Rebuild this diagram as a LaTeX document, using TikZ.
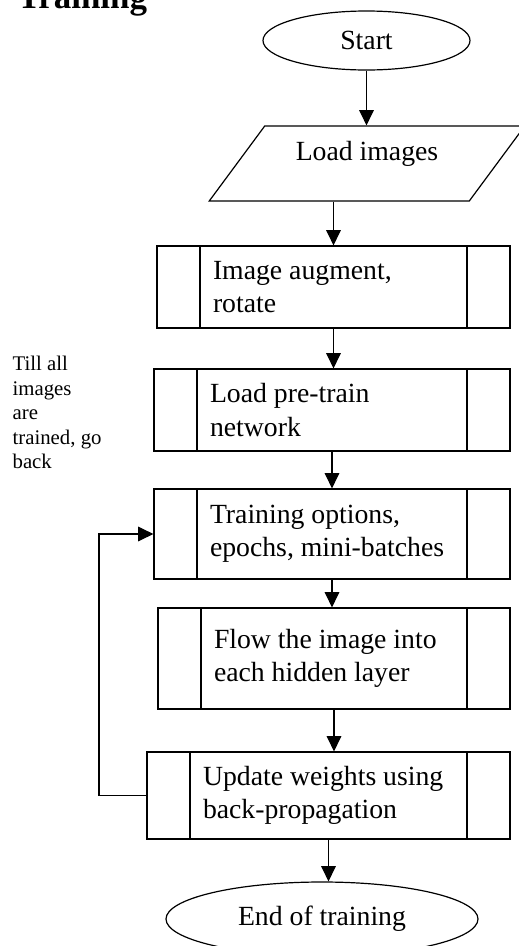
\documentclass[tikz,border=0pt]{standalone}
\usepackage{fontspec}
\setmainfont{Liberation Serif}
\usetikzlibrary{shapes.geometric,arrows.meta}

\tikzset{every picture/.style={line width=0.9pt}}
\tikzset{
  startstop/.style={draw, ellipse, inner sep=0pt},
  iobox/.style={draw, trapezium, trapezium left angle=49.5, trapezium right angle=130.5, trapezium stretches=true, inner sep=0pt},
  procbox/.style={draw, rectangle, align=flush left, inner xsep=42pt, inner ysep=0pt,
    path picture={
      \draw ([xshift=32.25pt]path picture bounding box.north west) -- ([xshift=32.25pt]path picture bounding box.south west);
      \draw ([xshift=-32.25pt]path picture bounding box.north east) -- ([xshift=-32.25pt]path picture bounding box.south east);
    }},
  flowarrow/.style={-{Triangle[length=11.5pt,width=11pt]}},
}

\begin{document}
\begin{tikzpicture}[x=0.75pt,y=0.75pt,yscale=-1,xscale=1,font=\fontsize{20.8}{25}\selectfont]
    \useasboundingbox (0,0) rectangle (518,946);
    \draw (17,8.5) node [anchor=base west, inner sep=0pt, font=\fontsize{26.2}{30}\selectfont\bfseries] (title) {Training};
    \draw (366.5,40.5) node [startstop, minimum width=155.25pt, minimum height=44.25pt] (start) {Start};
    \draw (367,163.5) node [iobox, minimum width=237pt, minimum height=56.25pt, text depth=19.5pt] (load) {Load images};
    \draw (333.5,287) node [procbox, text width=180.75pt, minimum height=61.5pt] (augment) {Image augment,\\rotate};
    \draw (332,410) node [procbox, text width=183pt, minimum height=61.5pt] (pretrain) {Load pre-train\\network};
    \draw (332,534) node [procbox, text width=183pt, minimum height=67.5pt] (options) {Training options,\\epochs, mini-batches};
    \draw (334,658.5) node [procbox, text width=180pt, minimum height=75.75pt] (flow) {Flow the image into\\each hidden layer\par\vspace{9pt}};
    \draw (328.5,795.5) node [procbox, text width=188.25pt, minimum height=65.25pt] (update) {Update weights using\\back-propagation};
    \draw (322,919) node [startstop, minimum width=234pt, minimum height=55.5pt] (finish) {End of training};
    \draw (12,355.5) node [anchor=north west, inner sep=0pt, align=flush left, font=\fontsize{15.6}{18.4}\selectfont] (note) {Till all\\images\\are\\trained, go\\back};
    \coordinate (loopcorner) at (99,795.5);
    \draw [flowarrow] (start.south) -- (start.south |- load.north);
    \draw [flowarrow] (load.south -| augment.north) -- (augment.north);
    \draw [flowarrow] (augment.south) -- (augment.south |- pretrain.north);
    \draw [flowarrow] (pretrain.south) -- (pretrain.south |- options.north);
    \draw [flowarrow] (options.south) -- (options.south |- flow.north);
    \draw [flowarrow] (flow.south) -- (flow.south |- update.north);
    \draw [flowarrow] (update.south) -- (update.south |- finish.north);
    \draw [flowarrow] (update.west) -- (update.west -| loopcorner) |- (options.west);
\end{tikzpicture}
\end{document}
